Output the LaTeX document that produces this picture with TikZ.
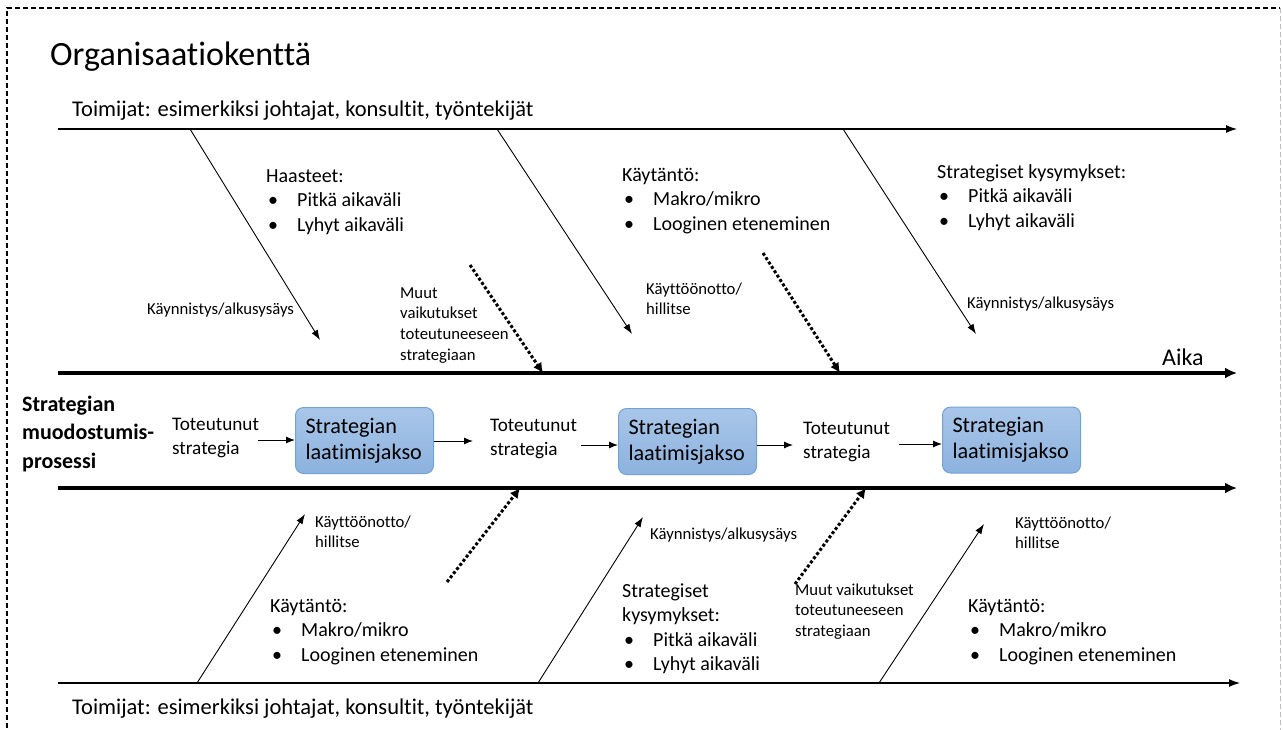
\documentclass[tikz,border=0pt]{standalone}
\usepackage{fontspec}
\setmainfont{Carlito}[Ligatures={NoCommon,NoContextual}]
\usetikzlibrary{arrows.meta,calc}
% stacked lines whose baseline is the first line
\newcommand{\rows}[1]{\begin{tabular}[t]{@{}l@{}}#1\end{tabular}}
\newcommand{\bul}{\hspace*{2pt}\makebox[29pt][l]{\textbullet}}
\definecolor{boxtop}{HTML}{A9C6E9}
\definecolor{boxbot}{HTML}{8CB2DE}
\definecolor{boxline}{HTML}{72A3D7}
\begin{document}
\begin{tikzpicture}[x=1pt,y=-1pt,
  every node/.style={inner sep=0pt,anchor=base west},
  title/.style={font=\fontsize{34}{40}\selectfont},
  actor/.style={font=\fontsize{22.5}{27}\selectfont},
  block/.style={font=\fontsize{20}{24.5}\selectfont},
  note/.style={font=\fontsize{16.7}{20.8}\selectfont},
  realized/.style={font=\fontsize{19.2}{24}\selectfont},
  proc/.style={font=\bfseries\fontsize{22}{28.5}\selectfont},
  stagebox/.style={anchor=center,draw=boxline,line width=1pt,rounded corners=8pt,
    top color=boxtop,bottom color=boxbot,minimum width=138pt,minimum height=66pt,
    text width=118pt,inner xsep=10pt,align=left,font=\fontsize{22.2}{26}\selectfont},
  thinaxis/.style={line width=1.1pt,-{Latex[length=11pt,width=8pt]}},
  thickaxis/.style={line width=3.3pt,-{Latex[length=12pt,width=11pt]}},
  link/.style={line width=0.9pt,-{Latex[length=10pt,width=7pt]}},
  flow/.style={line width=1pt,-{Latex[length=9pt,width=7pt]}},
  other/.style={line width=3pt,dash pattern=on 3pt off 2.2pt,-{Latex[length=10pt,width=10pt]}}]
\useasboundingbox (0,0) rectangle (1283,729);
\clip (0,0) rectangle (1283,729);

% frame of the organisational field
\draw[line width=1.4pt,dash pattern=on 5pt off 3pt] (7,760) -- (7,8) -- (1280,8);
\draw[line width=1pt,black!25,dash pattern=on 5pt off 3pt] (1280,8) -- (1280,760);

\node[title] (title) at (50,65) {Organisaatiokenttä};
\node[actor] (actTop) at (72,116) {Toimijat: esimerkiksi johtajat, konsultit, työntekijät};
\node[actor] (actBot) at (72,714) {Toimijat: esimerkiksi johtajat, konsultit, työntekijät};

% horizontal axes
\coordinate (topL) at (58,129);  \coordinate (topR) at (1237,129);
\coordinate (timeL) at (58,373); \coordinate (timeR) at (1237,373);
\coordinate (lowL) at (58,488);  \coordinate (lowR) at (1237,488);
\coordinate (botL) at (58,683);  \coordinate (botR) at (1240,683);
\draw[thinaxis] (topL) -- (topR);
\draw[thickaxis] (timeL) -- (timeR);
\draw[thickaxis] (lowL) -- (lowR);
\draw[thinaxis] (botL) -- (botR);
\node[font=\fontsize{24}{28}\selectfont] (aika) at (1162,365) {Aika};

% upper influences
\coordinate (u1s) at (190,129); \coordinate (u1e) at (320,340);
\coordinate (u2s) at (497,129); \coordinate (u2e) at (632,334);
\coordinate (u3s) at (843,129); \coordinate (u3e) at (976,334);
\draw[link] (u1s) -- (u1e);
\draw[link] (u2s) -- (u2e);
\draw[link] (u3s) -- (u3e);
\coordinate (o1s) at (470,265); \coordinate (o1e) at (543,373);
\coordinate (o2s) at (763,253); \coordinate (o2e) at (840,373);
\draw[other] (o1s) -- (o1e);
\draw[other] (o2s) -- (o2e);

\node[block] (challenges) at (266,182) {\rows{Haasteet:\\\bul Pitkä aikaväli\\\bul Lyhyt aikaväli}};
\node[block] (practiceTop) at (622,181) {\rows{Käytäntö:\\\bul Makro/mikro\\\bul Looginen eteneminen}};
\node[block] (questionsTop) at (937,178) {\rows{Strategiset kysymykset:\\\bul Pitkä aikaväli\\\bul Lyhyt aikaväli}};
\node[note] (startTopA) at (147,314) {Käynnistys/alkusysäys};
\node[note] (otherTop) at (400,298) {\rows{Muut\\vaikutukset\\toteutuneeseen\\strategiaan}};
\node[note] (useTop) at (646,294) {\rows{Käyttöönotto/\\hillitse}};
\node[note] (startTopB) at (967,308) {Käynnistys/alkusysäys};

% strategy formation process
\node[proc] (process) at (22,411) {\rows{Strategian\\muodostumis-\\prosessi}};
\node[realized] (real1) at (172,430) {\rows{Toteutunut\\strategia}};
\node[realized] (real2) at (490,431) {\rows{Toteutunut\\strategia}};
\node[realized] (real3) at (803,434) {\rows{Toteutunut\\strategia}};
\node[stagebox] (b1) at (364.5,440.5) {Strategian\\laatimisjakso};
\node[stagebox] (b2) at (687.5,441.5) {Strategian\\laatimisjakso};
\node[stagebox] (b3) at (1011.5,440) {Strategian\\laatimisjakso};
\coordinate (f1) at (258,440);
\coordinate (f2) at (473,441);
\coordinate (f3) at (581,445);
\coordinate (f4) at (793,445);
\coordinate (f5) at (899,444);
\draw[flow] (f1) -- (f1 -| b1.west);
\draw[flow] (f2 -| b1.east) -- (f2);
\draw[flow] (f3) -- (f3 -| b2.west);
\draw[flow] (f4 -| b2.east) -- (f4);
\draw[flow] (f5) -- (f5 -| b3.west);

% lower influences
\coordinate (l1s) at (197,683); \coordinate (l1e) at (305,514);
\coordinate (l2s) at (538,683); \coordinate (l2e) at (643,517);
\coordinate (l3s) at (879,683); \coordinate (l3e) at (984,524);
\draw[link] (l1s) -- (l1e);
\draw[link] (l2s) -- (l2e);
\draw[link] (l3s) -- (l3e);
\coordinate (p1s) at (447,582); \coordinate (p1e) at (520,488);
\coordinate (p2s) at (795,584); \coordinate (p2e) at (866,488);
\draw[other] (p1s) -- (p1e);
\draw[other] (p2s) -- (p2e);

\node[note] (useBotA) at (315,527) {\rows{Käyttöönotto/\\hillitse}};
\node[block] (practiceBotA) at (270,612) {\rows{Käytäntö:\\\bul Makro/mikro\\\bul Looginen eteneminen}};
\node[note] (startBot) at (650,539) {Käynnistys/alkusysäys};
\node[block] (questionsBot) at (622,597) {\rows{Strategiset\\kysymykset:\\\bul Pitkä aikaväli\\\bul Lyhyt aikaväli}};
\node[note] (otherBot) at (795,595) {\rows{Muut vaikutukset\\toteutuneeseen\\strategiaan}};
\node[note] (useBotB) at (1015,528) {\rows{Käyttöönotto/\\hillitse}};
\node[block] (practiceBotB) at (968,612) {\rows{Käytäntö:\\\bul Makro/mikro\\\bul Looginen eteneminen}};
\end{tikzpicture}
\end{document}
